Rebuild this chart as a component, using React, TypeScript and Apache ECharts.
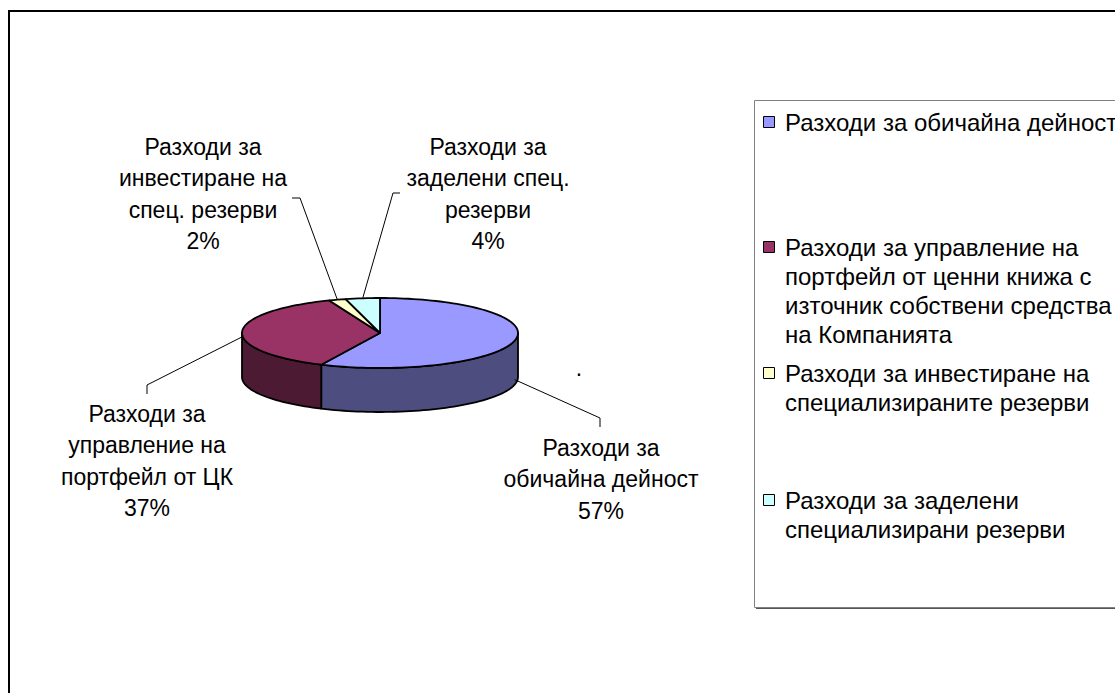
import React, { useEffect, useRef } from 'react';
import * as echarts from 'echarts';

// ---- data ----
const values = [57, 37, 2, 4];
const legendNames = [
  'Разходи за обичайна дейност',
  'Разходи за управление на\nпортфейл от ценни книжа с\nизточник собствени средства\nна Компанията',
  'Разходи за инвестиране на\nспециализираните резерви',
  'Разходи за заделени\nспециализирани резерви',
];
const labelNames = [
  'Разходи за\nобичайна дейност',
  'Разходи за\nуправление на\nпортфейл от ЦК',
  'Разходи за\nинвестиране на\nспец. резерви',
  'Разходи за\nзаделени спец.\nрезерви',
];

// ---- styles / layout ----
const topColors = ['#9999FF', '#993366', '#FFFFCC', '#CCFFFF'];
const sideColors = ['#4D4D80', '#4D1A33', '#808066', '#668080'];
const FONT = '"Liberation Sans", Arial, sans-serif';
const CX = 380;
const CY = 333;
const RX = 138;
const RY = 35;
const DEPTH = 44;

const labelLayout = [
  { dy: 39, elbow: [600, 418], end: [600, 427], text: [601, 479] },
  { dy: 5, elbow: [147, 385], end: [147, 394], text: [147, 461] },
  { dy: 0, elbow: [300, 198], end: [292, 198], text: [203, 194] },
  { dy: 0, elbow: [393, 193], end: [400, 193], text: [488, 194] },
];
const legendItemY = [122, 247, 373, 500];

function pt(deg: number, dy = 0): number[] {
  const r = (deg * Math.PI) / 180;
  return [CX + RX * Math.sin(r), CY - RY * Math.cos(r) + dy];
}

export default function App() {
  const ref = useRef<HTMLDivElement>(null);

  useEffect(() => {
    if (!ref.current) return;
    const chart = echarts.init(ref.current, undefined, { renderer: 'svg' });
    const total = values.reduce((s, v) => s + v, 0);
    let acc = 0;
    const data = values.map((v) => {
      const start = (acc / total) * 360;
      acc += v;
      const end = (acc / total) * 360;
      return [start, end, v];
    });

    const legendChildren: any[] = [];
    legendNames.forEach((name, i) => {
      const y = legendItemY[i];
      legendChildren.push({
        type: 'rect',
        shape: { x: 763.5, y: y - 5.5, width: 11, height: 11 },
        style: { fill: topColors[i], stroke: '#000', lineWidth: 1 },
      });
      legendChildren.push({
        type: 'text',
        x: 785,
        y: y - 14.5,
        style: {
          text: name,
          font: `24px ${FONT}`,
          lineHeight: 29,
          fill: '#000',
          align: 'left',
          verticalAlign: 'top',
        },
      });
    });

    chart.setOption({
      animation: false,
      backgroundColor: '#fff',
      graphic: [
        {
          type: 'rect',
          shape: { x: 9, y: 11, width: 1300, height: 900 },
          style: { fill: 'none', stroke: '#000', lineWidth: 2 },
          silent: true,
          z: -10,
        },
        {
          type: 'rect',
          shape: { x: 756, y: 102, width: 500, height: 507 },
          style: { fill: '#555', stroke: 'none' },
          silent: true,
          z: -5,
        },
        {
          type: 'rect',
          shape: { x: 754.5, y: 100.5, width: 500, height: 507 },
          style: { fill: '#fff', stroke: '#808080', lineWidth: 1 },
          silent: true,
          z: -4,
        },
        { type: 'group', children: legendChildren, silent: true, z: 5 },
        {
          type: 'text',
          x: 579,
          y: 368,
          style: { text: '.', font: `23px ${FONT}`, fill: '#000', align: 'center', verticalAlign: 'middle' },
          silent: true,
        },
      ],
      series: [
        {
          type: 'custom',
          coordinateSystem: 'none',
          silent: true,
          data,
          renderItem: (params: any, api: any) => {
            const i = params.dataIndex;
            const a = api.value(0) as number;
            const b = api.value(1) as number;
            const v = api.value(2) as number;
            const children: any[] = [];
            const s = Math.max(a, 90);
            const e = Math.min(b, 270);
            if (e > s) {
              const n = Math.max(2, Math.ceil((e - s) / 2));
              const pts: number[][] = [];
              for (let k = 0; k <= n; k++) pts.push(pt(s + ((e - s) * k) / n));
              for (let k = n; k >= 0; k--) pts.push(pt(s + ((e - s) * k) / n, DEPTH));
              children.push({
                type: 'polygon',
                shape: { points: pts },
                style: { fill: sideColors[i], stroke: '#000', lineWidth: 1.8, lineJoin: 'round' },
              });
            }
            const m = Math.max(2, Math.ceil((b - a) / 2));
            const tp: number[][] = [[CX, CY]];
            for (let k = 0; k <= m; k++) tp.push(pt(a + ((b - a) * k) / m));
            children.push({
              type: 'polygon',
              shape: { points: tp },
              style: { fill: topColors[i], stroke: '#000', lineWidth: 1.8, lineJoin: 'round' },
            });
            const L = labelLayout[i];
            const p0 = pt((a + b) / 2, L.dy);
            children.push({
              type: 'polyline',
              shape: { points: [p0, L.elbow, L.end] },
              style: { fill: 'none', stroke: '#000', lineWidth: 1 },
            });
            const pct = Math.round((v / total) * 100);
            children.push({
              type: 'text',
              x: L.text[0],
              y: L.text[1],
              style: {
                text: `${labelNames[i]}\n${pct}%`,
                font: `23px ${FONT}`,
                lineHeight: 31.5,
                fill: '#000',
                align: 'center',
                verticalAlign: 'middle',
              },
            });
            return { type: 'group', children };
          },
        },
      ],
    });
    return () => chart.dispose();
  }, []);

  return (
    <div
      ref={ref}
      style={{ position: 'absolute', left: 0, top: 0, width: 1115, height: 693 }}
    />
  );
}
